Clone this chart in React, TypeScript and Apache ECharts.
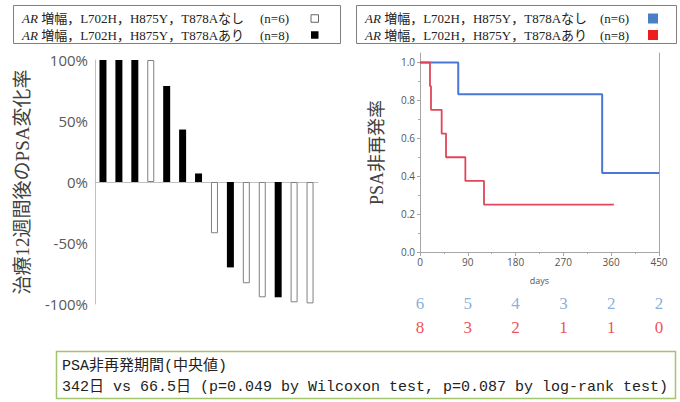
import React, { useEffect, useRef } from 'react';
import * as echarts from 'echarts';

// ---- data ----
const barValues = [100, 100, 100, 100, 78.7, 43, 7, -42, -70, -83, -94.5, -94.5, -98.6, -99.5];
// 1 = mutation present (あり, black), 0 = absent (なし, white)
const barGroups = [1, 1, 1, 0, 1, 1, 1, 0, 1, 0, 0, 1, 0, 0];
const barAxisName = '治療12週間後のPSA変化率';

const kmBlueDays = [0, 72, 343, 450];
const kmBlueSurv = [1, 0.833, 0.417, 0.417];
const kmRedDays = [0, 18.8, 20.7, 40.8, 49, 85.4, 120.5, 365];
const kmRedSurv = [1, 0.875, 0.75, 0.625, 0.5, 0.375, 0.25, 0.25];
const kmAxisName = 'PSA非再発率';
const kmXName = 'days';

const riskDays = [0, 90, 180, 270, 360, 450];
const riskBlue = [6, 5, 4, 3, 2, 2];
const riskRed = [8, 3, 2, 1, 1, 0];

const legendGroups = ['なし', 'あり'];
const legendCounts = [6, 8];
const legendPrefix = '増幅，L702H，H875Y，T878A';

const summaryTitle = 'PSA非再発期間(中央値)';
const summaryLine = '342日 vs 66.5日 (p=0.049 by Wilcoxon test, p=0.087 by log-rank test)';

// ---- styles ----
const SERIF = '"Liberation Serif", "Noto Sans CJK JP", serif';
const SANS = '"Open Sans", "Noto Sans", sans-serif';
const MONO = '"Liberation Mono", "Noto Sans CJK JP", monospace';
const BLUE = '#4a78d6';
const RED = '#e0475a';

export default function App() {
  const ref = useRef<HTMLDivElement>(null);
  useEffect(() => {
    if (!ref.current) return;
    const chart = echarts.init(ref.current, null, { renderer: 'svg' });

    const legendGraphics: any[] = [];
    const boxes = [
      { x: 13.5, w: 327, tx: 22, nx: 260, sqx: 311, sq: 7.5, colors: ['hollow', '#000'] },
      { x: 356.5, w: 320, tx: 365, nx: 600, sqx: 648, sq: 10, colors: ['#4a7fc8', '#ee1c1c'] },
    ];
    const FS = 13;
    boxes.forEach((b) => {
      legendGraphics.push({
        type: 'rect',
        shape: { x: b.x, y: 5.5, width: b.w, height: 38 },
        style: { fill: '#fff', stroke: '#7f7f7f', lineWidth: 1 },
      });
      legendGroups.forEach((g, i) => {
        const cy = 18.5 + i * 16.5;
        legendGraphics.push({
          type: 'text',
          x: b.tx,
          y: cy,
          style: {
            text: '{i|AR} ' + legendPrefix + g,
            fontSize: FS,
            fontFamily: SERIF,
            fill: '#222',
            verticalAlign: 'middle',
            rich: { i: { fontStyle: 'italic', fontSize: FS, fontFamily: SERIF, fill: '#222' } },
          },
        });
        legendGraphics.push({
          type: 'text',
          x: b.nx,
          y: cy,
          style: { text: '(n=' + legendCounts[i] + ')', fontSize: FS, fontFamily: SERIF, fill: '#222', verticalAlign: 'middle' },
        });
        const c = b.colors[i];
        legendGraphics.push({
          type: 'rect',
          shape: { x: b.sqx, y: cy - b.sq / 2, width: b.sq, height: b.sq },
          style: c === 'hollow' ? { fill: '#fff', stroke: '#666', lineWidth: 1 } : { fill: c },
        });
      });
    });

    const summaryGraphics = [
      {
        type: 'rect',
        shape: { x: 56.5, y: 351.5, width: 619, height: 47 },
        style: { fill: '#fff', stroke: '#a3c46c', lineWidth: 1.5 },
      },
      {
        type: 'text', x: 62, y: 366,
        style: { text: summaryTitle, fontSize: 15, fontFamily: MONO, fill: '#222', verticalAlign: 'middle' },
      },
      {
        type: 'text', x: 62, y: 387,
        style: { text: summaryLine, fontSize: 15, fontFamily: MONO, fill: '#222', verticalAlign: 'middle' },
      },
    ];

    const option: any = {
      animation: false,
      backgroundColor: '#fff',
      grid: [
        { left: 95, top: 60, width: 223, height: 244 },
        { left: 420, top: 53, width: 239, height: 199 },
        { left: 420, top: 291, width: 239, height: 48 },
      ],
      xAxis: [
        {
          gridIndex: 0, type: 'category',
          data: barValues.map((_, i) => String(i + 1)),
          axisLine: { onZero: true, lineStyle: { color: '#c0c0c0', width: 1 } },
          axisTick: { show: false }, axisLabel: { show: false }, splitLine: { show: false },
        },
        {
          gridIndex: 1, type: 'value', min: 0, max: 450, interval: 90,
          axisLine: { show: true, onZero: false, lineStyle: { color: '#a6a6a6' } },
          axisTick: { show: true, length: 4, lineStyle: { color: '#a6a6a6' } },
          minorTick: { show: true, splitNumber: 2, length: 2, lineStyle: { color: '#a6a6a6' } },
          axisLabel: { fontSize: 10, color: '#555', margin: 5, fontFamily: SANS },
          splitLine: { show: false },
          name: kmXName, nameLocation: 'middle', nameGap: 24,
          nameTextStyle: { fontSize: 9, color: '#555', fontFamily: SANS },
        },
        { gridIndex: 2, type: 'value', min: 0, max: 450, show: false },
      ],
      yAxis: [
        {
          gridIndex: 0, type: 'value', min: -100, max: 100, interval: 50,
          axisLine: { show: true, lineStyle: { color: '#c0c0c0' } },
          axisTick: { show: false }, splitLine: { show: false },
          axisLabel: { formatter: '{value}%', fontSize: 15, color: '#595959', margin: 7, fontFamily: SANS },
          name: barAxisName, nameLocation: 'middle', nameRotate: 90, nameGap: 63,
          nameTextStyle: { fontSize: 19, fontFamily: SERIF, color: '#404040' },
        },
        {
          gridIndex: 1, type: 'value', min: 0, max: 1.05, interval: 0.2,
          axisLine: { show: true, lineStyle: { color: '#a6a6a6' } },
          axisTick: { show: true, length: 3, lineStyle: { color: '#a6a6a6' }, customValues: [0, 0.2, 0.4, 0.6, 0.8, 1.0] },
          minorTick: { show: true, splitNumber: 2, length: 2, lineStyle: { color: '#a6a6a6' } },
          axisLabel: {
            fontSize: 10, color: '#555', margin: 5, fontFamily: SANS,
            formatter: (v: number) => (v > 1.001 ? '' : v.toFixed(1)),
          },
          splitLine: { show: false },
          name: kmAxisName, nameLocation: 'middle', nameRotate: 90, nameGap: 34,
          nameTextStyle: { fontSize: 18, fontFamily: SERIF, color: '#404040' },
        },
        {
          gridIndex: 1, type: 'value', position: 'right', min: 0, max: 1.05,
          axisLine: { show: true, lineStyle: { color: '#a6a6a6' } },
          axisTick: { show: false }, axisLabel: { show: false }, splitLine: { show: false },
        },
        { gridIndex: 2, type: 'category', data: ['blue', 'red'], inverse: true, show: false },
      ],
      series: [
        {
          type: 'bar', xAxisIndex: 0, yAxisIndex: 0, barWidth: 7,
          data: barValues.map((v, i) => ({
            value: v,
            itemStyle: barGroups[i]
              ? { color: '#000' }
              : { color: '#fff', borderColor: '#808080', borderWidth: 1 },
          })),
        },
        {
          type: 'line', xAxisIndex: 1, yAxisIndex: 1, step: 'end', symbol: 'none',
          data: kmBlueDays.map((d, i) => [d, kmBlueSurv[i]]),
          lineStyle: { color: BLUE, width: 2 },
        },
        {
          type: 'line', xAxisIndex: 1, yAxisIndex: 1, step: 'end', symbol: 'none',
          data: kmRedDays.map((d, i) => [d, kmRedSurv[i]]),
          lineStyle: { color: RED, width: 1.8 },
        },
        {
          type: 'scatter', xAxisIndex: 2, yAxisIndex: 3, symbolSize: 0,
          data: riskDays.map((d, i) => [d, 0, riskBlue[i]]),
          label: {
            show: true, position: 'inside', formatter: (p: any) => String(p.value[2]),
            color: '#6b9bd0', fontSize: 17, fontFamily: SERIF,
          },
        },
        {
          type: 'scatter', xAxisIndex: 2, yAxisIndex: 3, symbolSize: 0,
          data: riskDays.map((d, i) => [d, 1, riskRed[i]]),
          label: {
            show: true, position: 'inside', formatter: (p: any) => String(p.value[2]),
            color: '#e8232b', fontSize: 17, fontFamily: SERIF,
          },
        },
      ],
      graphic: [...legendGraphics, ...summaryGraphics],
    };
    chart.setOption(option);
    return () => chart.dispose();
  }, []);

  return (
    <div
      ref={ref}
      style={{ position: 'fixed', left: 0, top: 0, width: 680, height: 402, background: '#fff' }}
    />
  );
}
